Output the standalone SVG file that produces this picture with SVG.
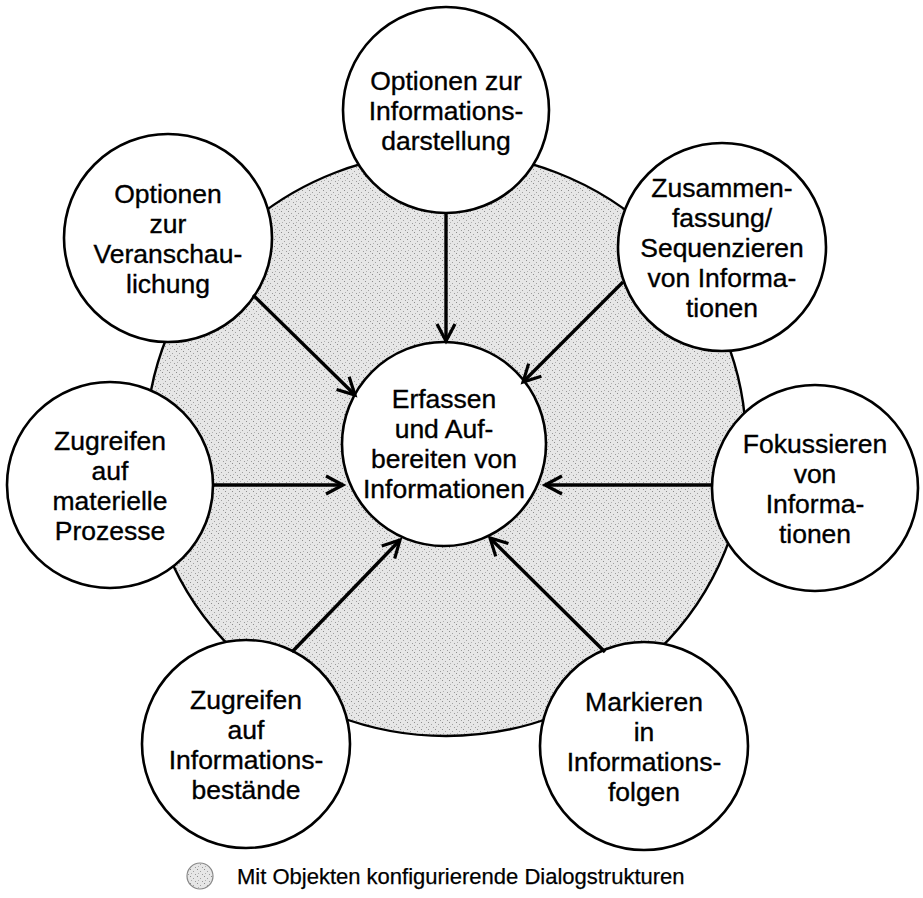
<svg xmlns="http://www.w3.org/2000/svg" width="923" height="898" viewBox="0 0 923 898">
  <defs>
    <!-- stippled light-grey fill used for the dialog-structure area -->
    <pattern id="stipple" width="7" height="7" patternUnits="userSpaceOnUse">
      <rect width="7" height="7" fill="#e6e6e6"/>
      <rect x="1" y="1" width="1" height="1" fill="#8c8c8c"/>
      <rect x="4" y="3" width="1" height="1" fill="#a0a0a0"/>
      <rect x="2" y="5" width="1" height="1" fill="#b0b0b0"/>
      <rect x="6" y="6" width="1" height="1" fill="#9a9a9a"/>
    </pattern>
    <marker id="arrow" markerUnits="userSpaceOnUse" viewBox="-20 -12 24 24" refX="0" refY="0" markerWidth="24" markerHeight="24" orient="auto">
      <path d="M -17 -9 L 0 0 L -17 9" fill="none" stroke="#000" stroke-width="3.2" stroke-linejoin="miter"/>
    </marker>
  </defs>
  <style>
    .node { fill: #fff; stroke: #000; stroke-width: 2.6; }
    .label { font-family: "Liberation Sans", Arial, sans-serif; font-size: 26.5px; fill: #000; stroke: #000; stroke-width: 0.35; text-anchor: middle; }
    .edge { stroke: #000; stroke-width: 3.4; fill: none; marker-end: url(#arrow); }
    .legend { font-family: "Liberation Sans", Arial, sans-serif; font-size: 22px; fill: #000; stroke: #000; stroke-width: 0.25; }
  </style>

  <rect width="923" height="898" fill="#fff"/>

  <!-- area of dialog structures configured with objects -->
  <ellipse id="area" cx="446" cy="444" rx="300" ry="292" fill="url(#stipple)" stroke="#000" stroke-width="2.4"/>

  <g id="n-center">
    <circle class="node" cx="444" cy="444" r="102"/>
    <text class="label" x="444" y="408">Erfassen</text>
    <text class="label" x="444" y="438">und Auf-</text>
    <text class="label" x="444" y="468">bereiten von</text>
    <text class="label" x="444" y="498">Informationen</text>
  </g>

  <g id="n-darstellung">
    <circle class="node" cx="446" cy="110" r="103"/>
    <text class="label" x="446" y="90">Optionen zur</text>
    <text class="label" x="446" y="120">Informations-</text>
    <text class="label" x="446" y="150">darstellung</text>
  </g>

  <g id="n-veranschaulichung">
    <circle class="node" cx="168" cy="238" r="104"/>
    <text class="label" x="168" y="203">Optionen</text>
    <text class="label" x="168" y="233">zur</text>
    <text class="label" x="168" y="263">Veranschau-</text>
    <text class="label" x="168" y="293">lichung</text>
  </g>

  <g id="n-sequenzieren">
    <circle class="node" cx="722" cy="247" r="104"/>
    <text class="label" x="722" y="197">Zusammen-</text>
    <text class="label" x="722" y="227">fassung/</text>
    <text class="label" x="722" y="257">Sequenzieren</text>
    <text class="label" x="722" y="287">von Informa-</text>
    <text class="label" x="722" y="317">tionen</text>
  </g>

  <g id="n-prozesse">
    <circle class="node" cx="110" cy="485" r="103"/>
    <text class="label" x="110" y="450">Zugreifen</text>
    <text class="label" x="110" y="480">auf</text>
    <text class="label" x="110" y="510">materielle</text>
    <text class="label" x="110" y="540">Prozesse</text>
  </g>

  <g id="n-fokussieren">
    <circle class="node" cx="815" cy="488" r="103"/>
    <text class="label" x="815" y="453">Fokussieren</text>
    <text class="label" x="815" y="483">von</text>
    <text class="label" x="815" y="513">Informa-</text>
    <text class="label" x="815" y="543">tionen</text>
  </g>

  <g id="n-bestaende">
    <circle class="node" cx="246" cy="744" r="104"/>
    <text class="label" x="246" y="709">Zugreifen</text>
    <text class="label" x="246" y="739">auf</text>
    <text class="label" x="246" y="769">Informations-</text>
    <text class="label" x="246" y="799">bestände</text>
  </g>

  <g id="n-markieren">
    <circle class="node" cx="644" cy="746" r="104"/>
    <text class="label" x="644" y="711">Markieren</text>
    <text class="label" x="644" y="741">in</text>
    <text class="label" x="644" y="771">Informations-</text>
    <text class="label" x="644" y="801">folgen</text>
  </g>

  <g id="connectors">
    <line class="edge" x1="446" y1="213" x2="446" y2="341"/>
    <line class="edge" x1="253" y1="295" x2="355" y2="395"/>
    <line class="edge" x1="623" y1="282" x2="523" y2="382"/>
    <line class="edge" x1="213" y1="485" x2="343" y2="485"/>
    <line class="edge" x1="712" y1="485" x2="545" y2="485"/>
    <line class="edge" x1="292" y1="652" x2="400" y2="540"/>
    <line class="edge" x1="605" y1="652" x2="490" y2="538"/>
  </g>

  <g id="legend">
    <circle cx="200" cy="876" r="13" fill="url(#stipple)" stroke="#888" stroke-width="1.2"/>
    <text class="legend" x="237" y="884">Mit Objekten konfigurierende Dialogstrukturen</text>
  </g>
</svg>
